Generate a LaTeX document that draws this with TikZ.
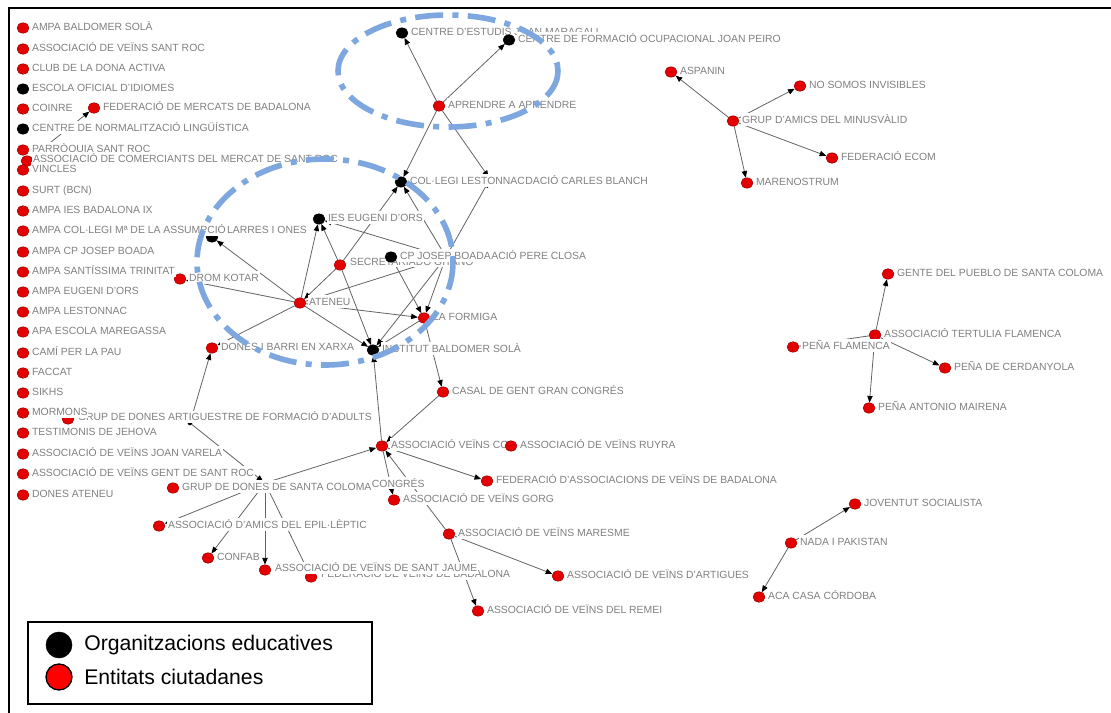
\documentclass[tikz,border=0pt]{standalone}
\usepackage{fontspec}
\setmainfont{Liberation Sans}
\usetikzlibrary{arrows.meta,shapes.geometric}
\pgfdeclarelayer{bglayer}
\pgfdeclarelayer{edgelayer}
\pgfsetlayers{bglayer,edgelayer,main}
\definecolor{lblgray}{RGB}{128,128,128}
\definecolor{edgegray}{RGB}{100,100,100}
\definecolor{dotred}{RGB}{228,0,0}
\definecolor{ellblue}{RGB}{125,167,222}
\newcommand\gn[5]{\node[#4] (#1) at (#2,#3) {};\node[lbl] (#1-l) at ([shift={(8,2.6)}]#2,#3) {#5};}
\newcommand\gnl[7]{\node[#4] (#1) at (#2,#3) {};\node[lbl] (#1-l) at (#5,#6) {#7};}
\tikzset{
 rdot/.style={ellipse, fill=dotred, draw=dotred!60!black, line width=0.3pt, minimum width=9pt, minimum height=7.8pt, inner sep=0pt},
 bdot/.style={rdot, fill=black, draw=black},
 tdot/.style={circle, fill=black, inner sep=0pt, minimum size=3.5pt},
 hdot/.style={circle, inner sep=0pt, minimum size=3pt},
 lbl/.style={anchor=base west, fill=white, inner xsep=0.6pt, inner ysep=1.2pt, text=lblgray, font=\fontsize{7.8}{9}\selectfont, text height=6.4pt, text depth=0.3pt},
 edge/.style={draw=edgegray, line width=0.6pt},
 arr/.style={edge, -{Triangle[length=5pt,width=4pt,color=black]}},
 ring/.style={draw=ellblue, line width=4.2pt, dash pattern=on 21pt off 7pt on 4.5pt off 7pt},
 legtxt/.style={anchor=west, inner sep=0pt, font=\fontsize{15.9}{18}\selectfont},
}
\begin{document}
\begin{tikzpicture}[x=0.75pt,y=-0.75pt]
\useasboundingbox (0,0) rectangle (1111,713);
\begin{pgfonlayer}{bglayer}
\fill[white] (0,0) rectangle (1111,713);
\end{pgfonlayer}
\draw[line width=1.5pt] (9,713) -- (9,8.5) -- (1111,8.5);

% ---- central cluster ----
\gn{ced}{402}{33}{bdot}{CENTRE D'ESTUDIS JOAN MARAGALL}
\gn{cfo}{509}{40}{bdot}{CENTRE DE FORMACIÓ OCUPACIONAL JOAN PEIRO}
\gn{apr}{439}{106}{rdot}{APRENDRE A APRENDRE}
\node[hdot] (fcb) at (490,179) {};
\gn{col}{401}{182}{bdot}{COL·LEGI LESTONNAC}
\node[lbl,xshift=-1.2pt] (fcb-l) at (col-l.base east) {DACIÓ CARLES BLANCH};
\gn{ies}{319}{219}{bdot}{IES EUGENI D'ORS}
\node[bdot] (lar) at (212,237) {};
\gnl{sec}{340}{265}{rdot}{349}{265.3}{SECRETARIADO GITANO}
\node[hdot] (fpc) at (446,257) {};
\gn{cpj}{391}{257}{bdot}{CP JOSEP BOADA}
\node[lbl,xshift=-1.2pt] (fpc-l) at (cpj-l.base east) {ACIÓ PERE CLOSA};
\gn{drom}{180}{279}{rdot}{DROM KOTAR}
\gn{ate}{300}{303}{rdot}{ATENEU}
\gn{for}{424}{318}{rdot}{LA FORMIGA}
\gn{dbx}{212}{348}{rdot}{DONES I BARRI EN XARXA}
\gn{ins}{373}{350}{bdot}{INSTITUT BALDOMER SOLÀ}
\gn{cas}{443}{392}{rdot}{CASAL DE GENT GRAN CONGRÉS}
\gn{avc}{382}{446}{rdot}{ASSOCIACIÓ VEÏNS CO}
\gn{ruy}{511}{446}{rdot}{ASSOCIACIÓ DE VEÏNS RUYRA}
\gn{fav}{487}{481}{rdot}{FEDERACIÓ D'ASSOCIACIONS DE VEÏNS DE BADALONA}
\node[hdot] (hub) at (265,483) {};
\gn{gds}{173}{488}{rdot}{GRUP DE DONES DE SANTA COLOMA}
\node[lbl,xshift=-1.2pt,yshift=2.4pt] (hub-l) at (gds-l.base east) {CONGRÉS};
\gn{gorg}{394}{500}{rdot}{ASSOCIACIÓ DE VEÏNS GORG}
\gn{mrs}{449}{534}{rdot}{ASSOCIACIÓ DE VEÏNS MARESME}
\gn{epi}{159}{526}{rdot}{ASSOCIACIÓ D'AMICS DEL EPIL·LÈPTIC}
\gn{cnf}{208}{558}{rdot}{CONFAB}
\gnl{fvb}{311}{577}{rdot}{320}{577.8}{FEDERACIÓ DE VEÏNS DE BADALONA}
\gnl{jau}{265}{570}{rdot}{274}{571.8}{ASSOCIACIÓ DE VEÏNS DE SANT JAUME}
\gn{dar}{558}{576}{rdot}{ASSOCIACIÓ DE VEÏNS D'ARTIGUES}
\gn{rem}{478}{611}{rdot}{ASSOCIACIÓ DE VEÏNS DEL REMEI}
\node[tdot] (cfa) at (190,423) {};
\gnl{art}{68}{419}{rdot}{77}{420.8}{GRUP DE DONES ARTIGUES}
\node[lbl,xshift=-1.2pt] (cfa-l) at (art-l.base east) {TRE DE FORMACIÓ D'ADULTS};

% ---- left column ----
\gn{l01}{23}{28}{rdot}{AMPA BALDOMER SOLÀ}
\gn{l02}{23}{49}{rdot}{ASSOCIACIÓ DE VEÏNS SANT ROC}
\gn{l03}{23}{69}{rdot}{CLUB DE LA DONA ACTIVA}
\gn{l04}{23}{89}{bdot}{ESCOLA OFICIAL D'IDIOMES}
\gn{l05}{23}{109}{rdot}{COINRE}
\gn{fmb}{94}{108}{rdot}{FEDERACIÓ DE MERCATS DE BADALONA}
\gn{l06}{23}{129}{bdot}{CENTRE DE NORMALITZACIÓ LINGÜÍSTICA}
\gn{l07}{23}{150}{rdot}{PARRÒQUIA SANT ROC}
\gnl{com}{27}{161}{rdot}{32}{162.6}{ASSOCIACIÓ DE COMERCIANTS DEL MERCAT DE SANT ROC}
\gn{l08}{23}{170}{rdot}{VINCLES}
\gn{l09}{23}{191}{rdot}{SURT (BCN)}
\gn{l10}{23}{211}{rdot}{AMPA IES BADALONA IX}
\gn{l11}{23}{231}{rdot}{AMPA COL·LEGI Mª DE LA ASSUMPCIÓ}
\node[lbl,xshift=-0.6pt] (lar-l) at (l11-l.base east) {LARRES I ONES};
\gn{l12}{23}{252}{rdot}{AMPA CP JOSEP BOADA}
\gn{l13}{23}{272}{rdot}{AMPA SANTÍSSIMA TRINITAT}
\gn{l14}{23}{292}{rdot}{AMPA EUGENI D'ORS}
\gn{l15}{23}{312}{rdot}{AMPA LESTONNAC}
\gn{l16}{23}{332}{rdot}{APA ESCOLA MAREGASSA}
\gn{l17}{23}{353}{rdot}{CAMÍ PER LA PAU}
\gn{l18}{23}{373}{rdot}{FACCAT}
\gn{l19}{23}{393}{rdot}{SIKHS}
\gn{l20}{23}{413}{rdot}{MORMONS}
\gn{l21}{23}{433}{rdot}{TESTIMONIS DE JEHOVA}
\gn{l22}{23}{454}{rdot}{ASSOCIACIÓ DE VEÏNS JOAN VARELA}
\gn{l23}{23}{474}{rdot}{ASSOCIACIÓ DE VEÏNS GENT DE SANT ROC}
\gn{l24}{23}{495}{rdot}{DONES ATENEU}

% ---- right clusters ----
\gn{asp}{671}{72}{rdot}{ASPANIN}
\gn{nsi}{800}{86}{rdot}{NO SOMOS INVISIBLES}
\gn{gam}{733}{121}{rdot}{GRUP D'AMICS DEL MINUSVÀLID}
\gn{fec}{832}{158}{rdot}{FEDERACIÓ ECOM}
\gn{mar}{747}{183}{rdot}{MARENOSTRUM}
\gn{gps}{888}{274}{rdot}{GENTE DEL PUEBLO DE SANTA COLOMA}
\gn{atf}{875}{335}{rdot}{ASSOCIACIÓ TERTULIA FLAMENCA}
\gn{pfl}{793}{347}{rdot}{PEÑA FLAMENCA}
\gn{pce}{945}{368}{rdot}{PEÑA DE CERDANYOLA}
\gn{pam}{869}{408}{rdot}{PEÑA ANTONIO MAIRENA}
\gn{jso}{855}{504}{rdot}{JOVENTUT SOCIALISTA}
\gn{nip}{791}{543}{rdot}{NADA I PAKISTAN}
\gn{aca}{759}{597}{rdot}{ACA CASA CÓRDOBA}

% ---- connectors ----
\begin{pgfonlayer}{edgelayer}
\draw[arr] (apr) -- (ced);
\draw[arr] (apr) -- (cfo);
\draw[arr] (apr) -- (col);
\draw[arr] (apr) -- (fcb);
\draw[arr] (gam) -- (asp);
\draw[arr] (gam) -- (nsi);
\draw[arr] (gam) -- (fec);
\draw[arr] (gam) -- (mar);
\draw[arr] (atf) -- (gps);
\draw[arr] (atf) -- (pce);
\draw[arr] (atf) -- (pam);
\draw[edge] (pfl) -- (atf);
\draw[arr] (nip) -- (jso);
\draw[arr] (nip) -- (aca);
\draw[arr] (com) -- (fmb);
\draw[arr] (ate) -- (lar);
\draw[arr] (ate) -- (drom);
\draw[arr] (ate) -- (ies);
\draw[arr] (sec) -- (ate);
\draw[arr] (ate) -- (fpc);
\draw[arr] (ate) -- (for);
\draw[arr] (ate) -- (ins);
\draw[arr] (ate) -- (dbx);
\draw[arr] (sec) -- (ies);
\draw[arr] (sec) -- (col);
\draw[arr] (sec) -- (ins);
\draw[arr] (fpc) -- (ies);
\draw[arr] (fpc) -- (col);
\draw[arr] (fpc) -- (fcb);
\draw[arr] (fpc) -- (for);
\draw[arr] (fpc) -- (ins);
\draw[arr] (for) -- (ins);
\draw[arr] (cpj) -- (for);
\draw[arr] (for) -- (cas);
\draw[arr] (cas) -- (avc);
\draw[arr] (avc) -- (ins);
\draw[arr] (hub) -- (avc);
\draw[arr] (avc) -- (fav);
\draw[arr] (avc) -- (gorg);
\draw[arr] (mrs) -- (avc);
\draw[arr] (mrs) -- (dar);
\draw[arr] (mrs) -- (rem);
\draw[arr] (hub) -- (epi);
\draw[arr] (hub) -- (cnf);
\draw[arr] (hub) -- (jau);
\draw[arr] (hub) -- (fvb);
\draw[arr] (cfa) -- (hub);
\draw[arr] (cfa) -- (dbx);
\end{pgfonlayer}

% ---- highlight rings ----
\draw[ring] (448,71) ellipse [x radius=110, y radius=56];
\draw[ring] (325,262) ellipse [x radius=128, y radius=103];

% ---- legend ----
\draw[line width=1.1pt] (28,622) rectangle (372,704);
\node[circle, fill=black, draw=black, minimum size=19.5pt, inner sep=0pt] (lgb) at (59,645) {};
\node[circle, fill=red, draw=black, line width=1pt, minimum size=19.5pt, inner sep=0pt] (lgr) at (59,677) {};
\node[legtxt] (lgbt) at (84,645) {Organitzacions educatives};
\node[legtxt] (lgrt) at (84,677) {Entitats ciutadanes};
\end{tikzpicture}
\end{document}
